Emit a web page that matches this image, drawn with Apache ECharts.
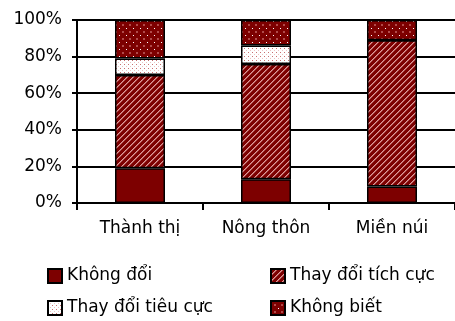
<!DOCTYPE html>
<html>
<head>
<meta charset="utf-8">
<script src="https://cdn.jsdelivr.net/npm/echarts@6/dist/echarts.min.js"></script>
<style>
  html, body { margin: 0; padding: 0; background: #fff; }
  #chart { width: 455px; height: 321px; }
</style>
</head>
<body>
<div id="chart"></div>
<script>
// Survey shares (%) per area
const categories = ['Thành thị', 'Nông thôn', 'Miền núi'];
const seriesNames = ['Không đổi', 'Thay đổi tích cực', 'Thay đổi tiêu cực', 'Không biết'];
const khongDoi = [19, 13, 9];
const tichCuc = [51, 63, 80];
const tieuCuc = [9, 10, 0];
const khongBiet = [21, 14, 11];
const yTicks = [0, 20, 40, 60, 80, 100];

const DARK = '#7d0000';

// Small canvas tiles used as fill patterns
function tile(w, h, draw) {
  const c = document.createElement('canvas');
  c.width = w; c.height = h;
  const g = c.getContext('2d');
  draw(g);
  return { image: c, repeat: 'repeat' };
}
const solid = DARK;
const hatch = tile(6, 6, g => {
  g.fillStyle = DARK; g.fillRect(0, 0, 6, 6);
  g.fillStyle = '#e09a9a';
  for (let i = 0; i < 6; i++) g.fillRect(i, 5 - i, 1, 1);
  g.fillStyle = '#b05555';
  for (let i = 0; i < 6; i++) g.fillRect((i + 1) % 6, 5 - i, 1, 1);
});
const lightDots = tile(4, 4, g => {
  g.fillStyle = '#ffffff'; g.fillRect(0, 0, 4, 4);
  g.fillStyle = '#c87070';
  g.fillRect(0, 0, 1, 1);
  g.fillStyle = '#ecc4c4';
  g.fillRect(2, 2, 1, 1);
});
const darkDots = tile(7, 7, g => {
  g.fillStyle = DARK; g.fillRect(0, 0, 7, 7);
  g.fillStyle = '#ffffff'; g.fillRect(0, 0, 1, 1);
  g.fillStyle = '#b04a4a'; g.fillRect(3, 3, 2, 2);
});

const fills = [solid, hatch, lightDots, darkDots];
const values = [khongDoi, tichCuc, tieuCuc, khongBiet];

const chart = echarts.init(document.getElementById('chart'), null, { renderer: 'canvas' });
const font = 'DejaVu Sans, sans-serif';
const legendText = { fontFamily: font, fontSize: 17, lineHeight: 18, color: '#000' };
const legendBase = {
  orient: 'vertical', top: 267, height: 54, padding: 0,
  icon: 'rect', itemWidth: 14, itemHeight: 14, itemGap: 14, itemTextGap: 5,
  textStyle: legendText
};

chart.setOption({
  animation: false,
  grid: { left: 77, top: 20, width: 382, height: 183 },
  legend: [
    Object.assign({ data: [seriesNames[0], seriesNames[2]], left: 47 }, legendBase),
    Object.assign({ data: [seriesNames[1], seriesNames[3]], left: 270 }, legendBase)
  ],
  xAxis: {
    type: 'category',
    data: categories,
    axisLine: { lineStyle: { color: '#000', width: 2 } },
    axisTick: {
      show: true, length: 7, lineStyle: { color: '#000', width: 2 },
      interval: (index) => index < categories.length
    },
    axisLabel: { margin: 17, fontFamily: font, fontSize: 17, color: '#000' }
  },
  yAxis: {
    type: 'value',
    min: yTicks[0], max: yTicks[yTicks.length - 1], interval: 20,
    axisLine: { show: true, lineStyle: { color: '#000', width: 2 } },
    axisTick: { show: true, length: 5, lineStyle: { color: '#000', width: 2 } },
    splitLine: { lineStyle: { color: '#000', width: 2 } },
    axisLabel: { margin: 15, formatter: '{value}%', fontFamily: font, fontSize: 17, color: '#000' }
  },
  series: seriesNames.map((name, i) => ({
    name,
    type: 'bar',
    stack: 'total',
    barWidth: 50,
    data: values[i],
    itemStyle: { color: fills[i], borderColor: '#000', borderWidth: 1.5 }
  }))
});
</script>
</body>
</html>
